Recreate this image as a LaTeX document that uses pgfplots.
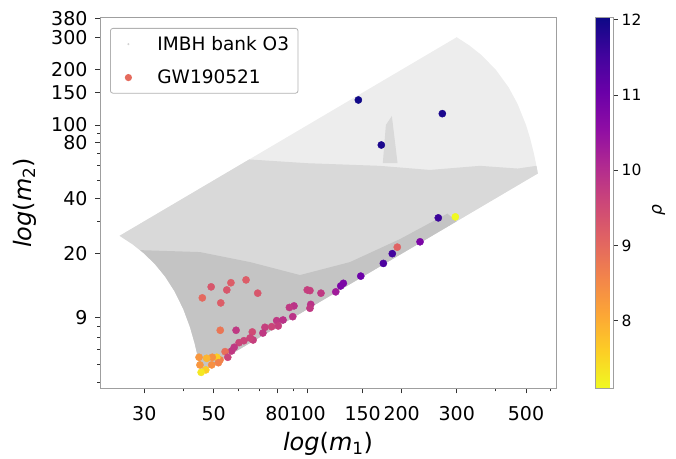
\documentclass[border=0pt]{standalone}
\usepackage{pgfplots}
\pgfplotsset{compat=1.18}
\usepackage{fontspec}
\setmainfont{DejaVu Sans}

\definecolor{cloudlight}{HTML}{EDEDED}
\definecolor{cloudmid}{HTML}{D9D9D9}
\definecolor{clouddense}{HTML}{C4C4C4}
\definecolor{gwsalmon}{RGB}{229,107,93}

\pgfplotstableread{
m1    m2     rho
49.1  13.2   9.3
56.8  13.9   9.2
63.5  14.4   9.2
55.1  12.7   9.3
46.0  11.5   9.0
52.7  10.8   9.2
69.2  12.2   9.3
52.5  7.67   8.8
59.0  7.67   9.8
66.5  7.51   9.5
73.0  7.96   9.7
79.6  8.65   9.8
83.4  8.72   9.9
71.9  7.41   9.8
66.9  6.79   9.7
65.4  6.96   9.6
62.5  6.73   9.6
60.3  6.57   9.6
58.2  6.20   9.8
57.1  5.92   9.8
54.4  5.87   8.9
55.5  5.47   9.6
52.4  5.29   8.6
51.2  5.47   7.6
49.5  5.47   8.4
47.5  5.40   7.9
44.9  5.47   8.3
45.2  4.97   8.3
47.2  4.67   7.6
45.6  4.53   7.3
49.3  4.97   8.4
51.8  5.11   8.6
147.9 15.1   11.0
130.1 13.8   10.8
127.6 13.35  10.8
123.0 12.4   10.3
110.3 12.2   9.8
99.7  12.7   9.7
101.7 12.6   9.7
102.3 10.6   9.9
101.7 10.1   9.8
90.4  10.4   9.9
87.4  10.2   9.8
89.6  9.09   9.9
80.5  8.09   9.7
76.7  8.02   9.6
174.7 17.7   11.4
186.6 20.0   11.5
193.6 21.7   9.1
228.9 23.2   10.8
261.9 31.3   11.6
297.0 31.7   7.1
145.3 136.8  12.0
269.8 115.3  11.9
172.1 77.9   11.9
}\gwdata

\begin{document}
\begin{tikzpicture}
\useasboundingbox (-100pt,-69.7pt) rectangle (576pt,388.3pt);
\begin{axis}[
  scale only axis,
  width=456pt, height=370.8pt,
  xmode=log, ymode=log,
  xmin=21.64, xmax=623.7,
  ymin=3.71, ymax=384,
  xtick={30,50,80,100,150,200,300,500},
  xticklabels={30,50,80,100,150,200,300,500},
  minor xtick={40,60,70,90,400,600},
  ytick={9,20,40,80,100,150,200,300,380},
  yticklabels={9,20,40,80,100,150,200,300,380},
  minor ytick={4,5,6,7,8,30,50,60,70,90},
  xtick pos=bottom, ytick pos=left,
  tick align=outside,
  major tick length=5pt, minor tick length=3pt,
  every tick/.style={black!80, line width=0.8pt},
  axis line style={draw=gray!75, line width=1pt},
  xticklabel style={font=\fontsize{19}{22}\selectfont, inner sep=0pt, anchor=north},
  yticklabel style={font=\fontsize{19}{22}\selectfont, inner sep=0pt, anchor=east},
  xticklabel shift=12.7pt,
  yticklabel shift=7.3pt,
  every axis x label/.style={at={(axis description cs:0.5,-0.150)}, anchor=center,
    font=\fontsize{24}{28}\selectfont},
  every axis y label/.style={at={(axis description cs:-0.1656,0.5)}, anchor=center,
    rotate=90, font=\fontsize{24}{28}\selectfont},
  xlabel={\textit{log}(\textit{m}\textsubscript{1})},
  ylabel={\textit{log}(\textit{m}\textsubscript{2})},
  colormap={plasmar}{rgb255=(240,249,33) rgb255=(252,206,37) rgb255=(252,166,54)
    rgb255=(242,132,75) rgb255=(225,100,98) rgb255=(204,71,120) rgb255=(177,42,144)
    rgb255=(143,13,164) rgb255=(106,0,168) rgb255=(65,4,157) rgb255=(13,8,135)},
  point meta min=7.1, point meta max=12.03,
  colorbar,
  colorbar style={
    width=18pt,
    at={(parent axis.north east)}, anchor=north west, xshift=31pt,
    ytick={8,9,10,11,12}, yticklabels={8,9,10,11,12},
    ytick pos=right, yticklabel pos=right,
    tick align=outside, major tick length=4pt,
    every tick/.style={black!80, line width=0.8pt},
    axis line style={draw=gray!75, line width=1pt},
    yticklabel style={font=\fontsize{15.5}{18}\selectfont, inner sep=0pt, anchor=west},
    yticklabel shift=4pt,
    ylabel={\textit{ρ}},
    every axis y label/.style={at={(axis description cs:3.5,0.481)}, anchor=center,
      rotate=90, font=\fontsize{17}{20}\selectfont},
  },
  legend style={
    at={(axis description cs:0,1)}, anchor=north west,
    xshift=10pt, yshift=-10.5pt,
    draw=gray!60, line width=0.8pt, rounded corners=2.5pt,
    inner xsep=9pt, inner ysep=8pt,
    nodes={inner sep=0pt},
    column sep=0pt,
    row sep=18pt,
    font=\fontsize{18.5}{22}\selectfont,
  },
  legend cell align=left,
]
% IMBH template bank cloud, drawn as density bands
\addplot[fill=cloudlight, draw=none, forget plot] coordinates {
  (25,25) (27.5,22.5) (30,20) (32.5,17.5) (35,15) (37.5,12.5) (40,10) (42,8)
  (43.5,6.5) (44.5,5.5) (45.45,4.545) (545.5,54.55) (540,60) (530,70) (515,85)
  (500,100) (470,130) (440,160) (400,200) (360,240) (330,270) (300,300)
} -- cycle;
\addplot[fill=cloudmid, draw=none, forget plot] coordinates {
  (25,25) (65,65) (100,62) (170,60) (246,57) (356,60) (470,58) (540,60)
  (545.5,54.55) (45.45,4.545) (44.5,5.5) (43.5,6.5) (42,8) (40,10) (37.5,12.5)
  (35,15) (32.5,17.5) (30,20) (27.5,22.5)
} -- cycle;
\addplot[fill=cloudmid, draw=none, forget plot] coordinates {
  (174,62) (178,100) (186,112) (194,62)
} -- cycle;
\addplot[fill=clouddense, draw=none, forget plot] coordinates {
  (29.1,20.9) (30,20) (32.5,17.5) (35,15) (37.5,12.5) (40,10) (42,8) (43.5,6.5)
  (44.5,5.5) (45.45,4.545) (300,30) (280,33) (197.5,24) (136.6,18.0) (94.5,15.3)
  (65.4,18.0) (45.2,20.4)
} -- cycle;

\addlegendimage{legend image code/.code={
  \path[draw=none] (0pt,0pt) (38pt,0pt);
  \fill[gray!35, draw=none] (9pt,0pt) circle (1.1pt);}}
\addlegendentry{IMBH bank O3}
\addlegendimage{legend image code/.code={
  \path[draw=none] (0pt,0pt) (38pt,0pt);
  \fill[gwsalmon, draw=none] (9pt,0pt) circle (3.6pt);}}
\addlegendentry{GW190521}

\addplot[scatter, only marks, mark=*, mark size=3.6pt, scatter src=explicit,
  scatter/use mapped color={draw=mapped color, fill=mapped color}, forget plot]
  table[x=m1, y=m2, meta=rho] {\gwdata};
\end{axis}
\end{tikzpicture}
\end{document}
